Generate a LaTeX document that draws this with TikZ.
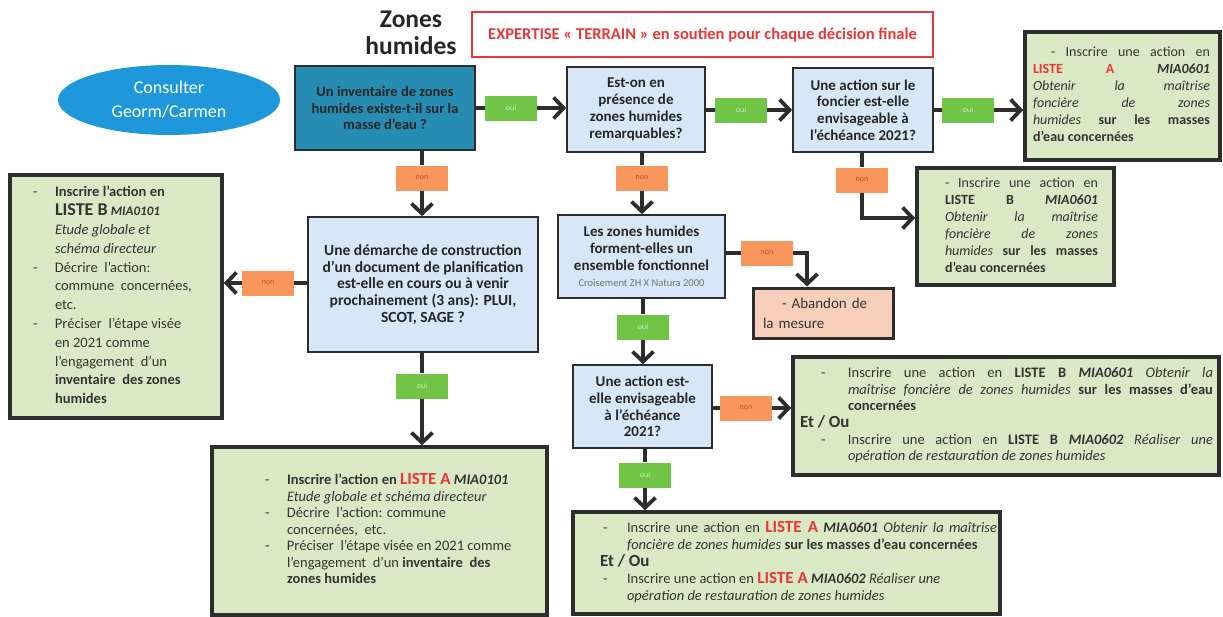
\documentclass[tikz,border=0pt]{standalone}
\usepackage{fontspec}
\setmainfont{Carlito}
\usetikzlibrary{arrows.meta,shapes.geometric}
\definecolor{qblue}{RGB}{214,232,247}
\definecolor{qteal}{RGB}{38,140,178}
\definecolor{rgreen}{RGB}{218,233,197}
\definecolor{ouig}{RGB}{112,196,70}
\definecolor{ouit}{RGB}{205,235,185}
\definecolor{nono}{RGB}{249,150,92}
\definecolor{nont}{RGB}{190,80,50}
\definecolor{peach}{RGB}{248,207,186}
\definecolor{lred}{RGB}{232,55,55}
\definecolor{eblue}{RGB}{30,152,218}
\definecolor{ink}{RGB}{45,45,45}
\newcommand\mybi[1]{\textbf{\textit{#1}}}
\newcommand\myLA{{\color{lred}\bfseries LISTE A}}
\newcommand\myLAbig{{\color{lred}\bfseries\fontsize{17}{18}\selectfont LISTE A}}
\begin{document}
\begin{tikzpicture}[x=1pt,y=-1pt,
  qbox/.style={draw=ink, line width=1.6pt, fill=qblue, align=center, inner sep=2pt,
    font=\bfseries\fontsize{15}{16.8}\selectfont, text=black!85},
  rbox/.style={draw=ink, line width=3.5pt, fill=rgreen, inner sep=0pt, text=black!80},
  lab/.style={minimum width=52pt, minimum height=25pt, inner sep=0pt, font=\fontsize{8}{9}\selectfont},
  oui/.style={lab, fill=ouig, text=ouit},
  non/.style={lab, fill=nono, text=nont},
  conn/.style={draw=ink, line width=3.8pt},
  arr/.style={conn, -{Straight Barb[length=10pt,width=21pt]}}]
\useasboundingbox (0,0) rectangle (1223,616);

% title and header
\node[align=center, font=\bfseries\fontsize{25.5}{27}\selectfont, text=black!85] (title) at (411,33) {Zones\\humides};
\node[draw=lred, line width=1.5pt, minimum width=461pt, minimum height=45pt, inner sep=0pt,
  text=lred, font=\bfseries\fontsize{16.5}{18}\selectfont] (expert) at (702.5,34.5)
  {EXPERTISE « TERRAIN » en soutien pour chaque décision finale};
\node[ellipse, fill=eblue, minimum width=222pt, minimum height=70pt, inner sep=0pt, align=center,
  text=white, font=\fontsize{18}{24}\selectfont] (geo) at (169,100) {Consulter\\Georm/Carmen};

% questions
\node[qbox, fill=qteal, minimum width=180pt, minimum height=84pt, font=\bfseries\fontsize{14.5}{16.8}\selectfont] (q1) at (385,108)
  {Un inventaire de zones\\humides existe-t-il sur la\\masse d'eau ?};
\node[qbox, minimum width=138pt, minimum height=85pt] (q2) at (636,109.5)
  {Est-on en\\présence de\\zones humides\\remarquables?};
\node[qbox, minimum width=140pt, minimum height=84pt] (q3) at (863,110)
  {Une action sur le\\foncier est-elle\\envisageable à\\l'échéance 2021?};
\node[qbox, minimum width=230pt, minimum height=135pt, font=\bfseries\fontsize{15.5}{16.8}\selectfont] (q6) at (423,284.5)
  {Une démarche de construction\\d'un document de planification\\est-elle en cours ou à venir\\prochainement (3 ans): PLUI,\\SCOT, SAGE ?};
\node[qbox, minimum width=167pt, minimum height=83pt] (q4) at (641.5,256.5)
  {Les zones humides\\forment-elles un\\ensemble fonctionnel\\{\mdseries\fontsize{10.5}{12}\selectfont\color{black!55}Croisement ZH X Natura 2000}};
\node[qbox, minimum width=139pt, minimum height=83pt] (q5) at (642.5,406.5)
  {Une action est-\\elle envisageable\\à l'échéance\\2021?};
\node[draw=ink, line width=3pt, fill=peach, text width=120pt, inner xsep=10pt, minimum height=50pt,
  align=left, font=\fontsize{15}{20}\selectfont, text=black!80] (ab) at (823,313)
  {\hspace*{19pt}- Abandon de\\la mesure};

% results
\node[rbox, minimum width=195pt, minimum height=128pt, font=\fontsize{14}{17}\selectfont] (r1) at (1122.5,96)
{\begin{tabular}{@{\hspace{8pt}}p{177pt}@{\hspace{10pt}}}
\hspace*{18pt}- Inscrire une action en\linebreak
\myLA{} \mybi{MIA0601}\linebreak
\textit{Obtenir la maîtrise}\linebreak
\textit{foncière de zones}\linebreak
\textit{humides} \textbf{sur les masses}\linebreak
\textbf{d'eau concernées}
\end{tabular}};

\node[rbox, minimum width=197pt, minimum height=117pt, font=\fontsize{14}{17}\selectfont] (r2) at (1015.5,226.5)
{\begin{tabular}{@{\hspace{28pt}}p{153pt}@{\hspace{16pt}}}
- Inscrire une action en\linebreak
\textbf{LISTE B} \mybi{MIA0601}\linebreak
\textit{Obtenir la maîtrise}\linebreak
\textit{foncière de zones}\linebreak
\textit{humides} \textbf{sur les masses}\linebreak
\textbf{d'eau concernées}
\end{tabular}};

\node[rbox, minimum width=426pt, minimum height=118pt, font=\fontsize{14.5}{16.5}\selectfont] (r3) at (1006,416)
{\begin{tabular}{@{\hspace{7pt}}p{48pt}@{}p{365pt}@{\hspace{6pt}}}
\hspace*{21pt}- & Inscrire une action en \textbf{LISTE B} \mybi{MIA0601} \textit{Obtenir la}\linebreak
\textit{maîtrise foncière de zones humides} \textbf{sur les masses d'eau}\linebreak
\textbf{concernées}\\
\multicolumn{2}{@{\hspace{7pt}}l}{\bfseries\fontsize{17}{18}\selectfont Et / Ou}\\
\hspace*{21pt}- & Inscrire une action en \textbf{LISTE B} \mybi{MIA0602} \textit{Réaliser une}\linebreak
\textit{opération de restauration de zones humides}
\end{tabular}};

\node[rbox, minimum width=427pt, minimum height=102pt, font=\fontsize{14.5}{17}\selectfont] (r4) at (786.5,563)
{\begin{tabular}{@{\hspace{27pt}}p{27pt}@{}p{370pt}@{\hspace{3pt}}}
\hspace*{3pt}- & Inscrire une action en \myLAbig{} \mybi{MIA0601} \textit{Obtenir la maîtrise}\linebreak
\textit{foncière de zones humides} \textbf{sur les masses d'eau concernées}\\
\multicolumn{2}{@{\hspace{27pt}}l}{\bfseries\fontsize{17}{18}\selectfont Et / Ou}\\
\hspace*{3pt}- & Inscrire une action en \myLAbig{} \mybi{MIA0602} \textit{Réaliser une}\\
 & \textit{opération de restauration de zones humides}
\end{tabular}};

\node[rbox, minimum width=212pt, minimum height=243pt, font=\fontsize{14.5}{18.8}\selectfont] (l1) at (116,296.5)
{\begin{tabular}{@{\hspace{23pt}}p{22pt}@{}p{150pt}@{\hspace{17pt}}}
- & \textbf{Inscrire l'action en}\\
 & {\bfseries\fontsize{18}{19}\selectfont LISTE B} {\bfseries\itshape\fontsize{13}{14}\selectfont MIA0101}\\
 & \textit{Etude globale et}\\
 & \textit{schéma directeur}\\
- & Décrire\ \ l'action:\\
 & commune\ \ concernées,\\
 & etc.\\
- & Préciser\ \ l'étape visée\\
 & en 2021 comme\\
 & l'engagement\ \ d'un\\
 & \textbf{inventaire\ \ des zones}\\
 & \textbf{humides}
\end{tabular}};

\node[rbox, minimum width=335pt, minimum height=168pt, font=\fontsize{14.5}{16.5}\selectfont] (l2) at (379.5,531)
{\begin{tabular}{@{\hspace{53pt}}p{22pt}@{}p{245pt}@{\hspace{15pt}}}
- & \textbf{Inscrire l'action en} \myLAbig{} \mybi{MIA0101}\\
 & \textit{Etude globale et schéma directeur}\\
- & Décrire\ \ l'action: commune\\
 & concernées,\ \ etc.\\
- & Préciser\ \ l'étape visée en 2021 comme\\
 & l'engagement\ \ d'un \textbf{inventaire\ \ des}\\
 & \textbf{zones humides}
\end{tabular}};

% labels
\node[oui] (o1) at (511,108) {oui};
\node[oui] (o2) at (741,110) {oui};
\node[oui] (o3) at (968,110) {oui};
\node[non] (n1) at (422,178) {non};
\node[non] (n2) at (642,178) {non};
\node[non] (n3) at (862,180) {non};
\node[non] (n4) at (767,253) {non};
\node[non] (n5) at (268,283) {non};
\node[oui] (o4) at (422,386) {oui};
\node[oui] (o5) at (643,327) {oui};
\node[non] (n6) at (746,408) {non};
\node[oui] (o6) at (645,475) {oui};

\coordinate (c3) at (862,218);
\coordinate (c4) at (807,253);

% connectors
\draw[conn] (q1.east |- o1) -- (o1.west);
\draw[arr] (o1.east) -- (q2.west |- o1);
\draw[conn] (q2.east |- o2) -- (o2.west);
\draw[arr] (o2.east) -- (q3.west |- o2);
\draw[conn] (q3.east |- o3) -- (o3.west);
\draw[arr] (o3.east) -- (r1.west |- o3);
\draw[conn] (q3.south -| n3) -- (n3.north);
\draw[arr] (n3.south) |- (r2.west |- c3);
\draw[conn] (q2.south -| n2) -- (n2.north);
\draw[arr] (n2.south) -- (q4.north -| n2);
\draw[conn] (q4.east |- n4) -- (n4.west);
\draw[arr] (n4.east) -| (ab.north -| c4);
\draw[conn] (q4.south -| o5) -- (o5.north);
\draw[arr] (o5.south) -- (q5.north -| o5);
\draw[conn] (q5.east |- n6) -- (n6.west);
\draw[arr] (n6.east) -- (r3.west |- n6);
\draw[conn] (q5.south -| o6) -- (o6.north);
\draw[arr] (o6.south) -- (r4.north -| o6);
\draw[conn] (q1.south -| n1) -- (n1.north);
\draw[arr] (n1.south) -- (q6.north -| n1);
\draw[conn] (q6.west |- n5) -- (n5.east);
\draw[arr] (n5.west) -- (l1.east |- n5);
\draw[conn] (q6.south -| o4) -- (o4.north);
\draw[arr] (o4.south) -- (l2.north -| o4);
\end{tikzpicture}
\end{document}
